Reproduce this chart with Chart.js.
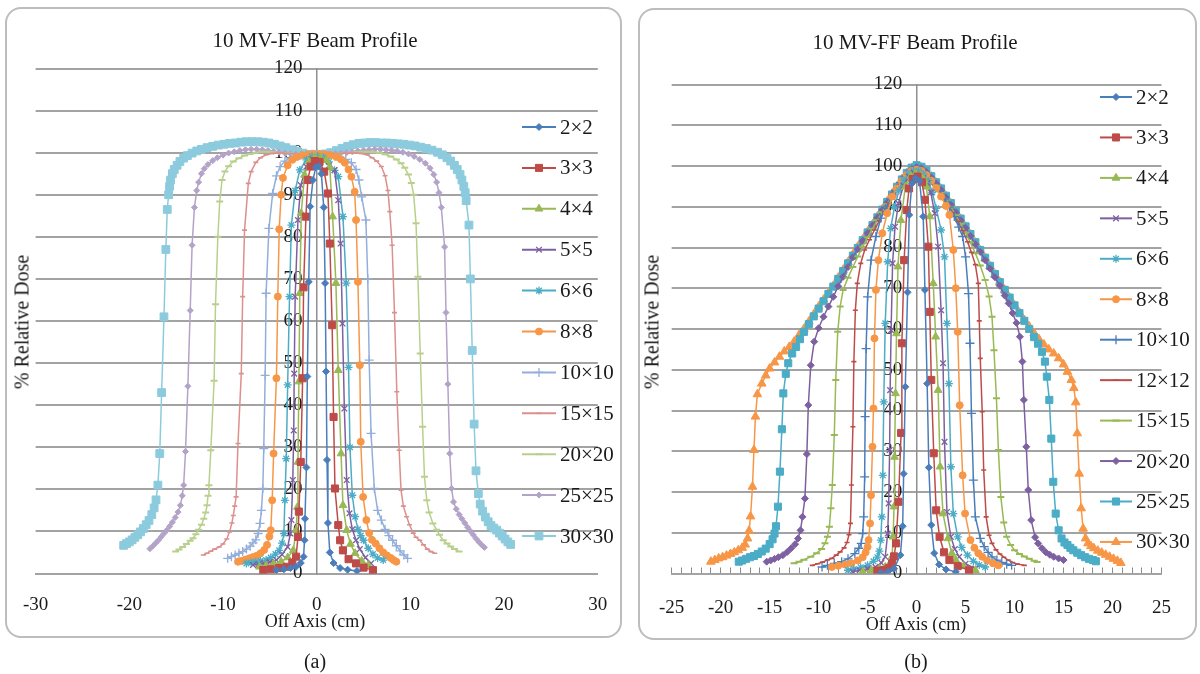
<!DOCTYPE html>
<html>
<head>
<meta charset="utf-8">
<script src="https://cdn.jsdelivr.net/npm/chart.js@4.4.1/dist/chart.umd.min.js"></script>
<style>
  body { margin: 0; background: #fff; width: 1200px; height: 674px; position: relative; overflow: hidden;
         font-family: 'Liberation Serif', 'Times New Roman', serif; color: #1a1a1a; }
  .frame { position: absolute; box-sizing: border-box; border: 2px solid #bdbdbd; border-radius: 16px; }
  canvas { position: absolute; top: 0; }
  .txt { position: absolute; transform: translate(-50%, -50%); white-space: nowrap; }
  .ytitle { transform: translate(-50%, -50%) rotate(-90deg); }
</style>
</head>
<body>
<div class="frame" style="left:5px;top:7px;width:617px;height:631px"></div>
<div class="frame" style="left:638px;top:8px;width:559px;height:632px"></div>
<canvas id="chartA" width="630" height="674" style="left:0"></canvas>
<canvas id="chartB" width="570" height="674" style="left:630px"></canvas>

<div class="txt" style="left:315px;top:40px;font-size:21px">10 MV-FF Beam Profile</div>
<div class="txt" style="left:915px;top:42px;font-size:21px">10 MV-FF Beam Profile</div>
<div class="txt ytitle" style="left:22px;top:322px;font-size:20px">% Relative Dose</div>
<div class="txt ytitle" style="left:652px;top:322px;font-size:20px">% Relative Dose</div>
<div class="txt" style="left:315px;top:621px;font-size:18px">Off Axis (cm)</div>
<div class="txt" style="left:916px;top:624px;font-size:18px">Off Axis (cm)</div>
<div class="txt" style="left:315px;top:661px;font-size:20px">(a)</div>
<div class="txt" style="left:916px;top:661px;font-size:20px">(b)</div>

<script>
// legend labels (field sizes)
const fieldsA = ['2×2', '3×3', '4×4', '5×5', '6×6', '8×8', '10×10', '15×15', '20×20', '25×25', '30×30'];
const fieldsB = ['2×2', '3×3', '4×4', '5×5', '6×6', '8×8', '10×10', '12×12', '15×15', '20×20', '25×25', '30×30'];

// axis ticks
const xLabelsA = [-30, -20, -10, 0, 10, 20, 30];
const xLabelsB = [-25, -20, -15, -10, -5, 0, 5, 10, 15, 20, 25];
const yLabels = [0, 10, 20, 30, 40, 50, 60, 70, 80, 90, 100, 110, 120];

// (a) profiles: [off axis cm, % dose]
const a2 = [[-4.3,0.8],[-3.5,1.0],[-2.8,1.3],[-2.2,1.6],[-1.7,2.5],[-1.4,4.0],[-1.3,7.9],[-1.25,13.0],[-1.1,25.2],[-1.0,46.8],[-0.85,69.3],[-0.7,87.2],[-0.4,93.5],[-0.1,96.5],[0.2,96.8],[0.5,95.0],[0.75,87.0],[0.9,69.0],[1.0,48.0],[1.1,27.0],[1.2,12.0],[1.4,5.0],[1.8,2.5],[2.5,1.3],[3.3,0.9],[4.3,0.6]];
const a3 = [[-5.7,0.8],[-4.9,1.0],[-4.0,1.3],[-3.2,1.6],[-2.6,2.6],[-2.2,4.0],[-2.0,8.7],[-1.9,14.7],[-1.7,26.5],[-1.5,46.4],[-1.4,68.0],[-1.15,84.8],[-0.95,93.5],[-0.65,96.7],[-0.2,98.0],[0.3,97.8],[0.8,95.5],[1.2,90.3],[1.4,78.4],[1.65,59.0],[1.8,37.2],[1.95,20.2],[2.3,11.5],[2.5,7.9],[2.8,5.5],[3.4,3.4],[4.2,2.4],[5.0,1.4],[6.0,0.8]];
const a4 = [[-6.1,1.6],[-5.4,1.9],[-4.6,2.3],[-3.8,2.8],[-3.1,3.8],[-2.5,5.5],[-2.2,10.3],[-2.05,15.8],[-2.0,26.5],[-1.9,45.6],[-1.8,66.6],[-1.65,85.6],[-1.3,94.7],[-0.8,97.9],[-0.2,98.9],[0.4,98.8],[1.0,98.2],[1.4,96.5],[1.7,84.8],[2.05,69.0],[2.3,48.3],[2.6,28.5],[2.8,16.2],[3.2,10.3],[3.6,7.0],[4.1,4.8],[4.8,3.0],[5.5,2.0]];
const a5 = [[-6.8,2.0],[-6.2,2.2],[-5.6,2.4],[-5.0,2.7],[-4.3,3.2],[-3.7,4.5],[-3.1,6.3],[-2.8,9.5],[-2.7,12.7],[-2.55,22.2],[-2.45,34.0],[-2.4,47.5],[-2.3,65.8],[-2.0,84.0],[-1.7,92.3],[-1.1,96.7],[-0.5,98.4],[0.1,98.8],[0.7,98.2],[1.3,97.0],[1.9,95.9],[2.3,88.7],[2.55,78.4],[2.75,59.4],[2.95,39.2],[3.2,22.2],[3.5,14.3],[3.8,10.5],[4.2,7.9],[4.6,5.8],[5.2,3.8],[5.8,2.4]];
const a6 = [[-7.5,2.4],[-7.0,2.6],[-6.5,2.8],[-6.0,3.0],[-5.4,3.2],[-4.9,3.8],[-4.4,4.6],[-4.0,5.5],[-3.7,7.2],[-3.5,9.5],[-3.4,17.4],[-3.25,27.3],[-3.1,44.8],[-2.9,65.8],[-2.7,82.8],[-2.3,91.0],[-1.8,95.9],[-1.1,98.3],[-0.5,99.1],[0.1,99.2],[0.7,98.9],[1.3,97.8],[1.9,95.8],[2.3,94.3],[2.8,84.8],[3.15,69.0],[3.4,49.0],[3.55,30.0],[3.8,18.6],[4.1,13.5],[4.4,10.5],[4.7,9.0],[5.0,7.9],[5.5,6.0],[6.0,4.6],[6.5,3.7],[7.1,3.2]];
const a8 = [[-8.4,2.8],[-8.0,3.0],[-7.6,3.3],[-7.2,3.6],[-6.8,3.9],[-6.4,4.2],[-6.0,4.8],[-5.6,5.6],[-5.3,6.8],[-5.05,8.8],[-4.9,10.3],[-4.75,17.4],[-4.6,28.5],[-4.3,46.4],[-4.15,65.8],[-4.0,81.8],[-3.8,90.0],[-3.6,94.0],[-3.1,97.0],[-2.6,98.3],[-2.1,99.0],[-1.5,99.4],[-0.9,99.6],[-0.3,99.7],[0.3,99.7],[0.9,99.6],[1.5,99.4],[2.1,99.0],[2.6,98.4],[3.0,97.6],[3.4,96.0],[3.7,94.3],[4.05,90.7],[4.2,84.0],[4.4,69.3],[4.6,49.5],[4.7,31.3],[4.95,18.2],[5.3,12.7],[5.6,9.6],[5.9,8.0],[6.3,7.1],[6.7,6.0],[7.1,5.0],[7.5,4.3],[7.9,3.7],[8.2,3.2],[8.5,2.8]];
const a10 = [[-9.5,3.6],[-9.1,4.0],[-8.7,4.4],[-8.3,4.8],[-7.9,5.2],[-7.5,5.8],[-7.1,6.5],[-6.8,7.3],[-6.5,8.0],[-6.25,9.5],[-6.05,11.9],[-5.9,15.0],[-5.75,20.2],[-5.65,29.7],[-5.5,47.1],[-5.4,66.6],[-5.1,82.0],[-4.7,90.3],[-4.3,94.5],[-3.9,96.7],[-3.4,98.0],[-2.9,98.7],[-2.3,99.2],[-1.7,99.4],[-1.1,99.5],[-0.5,99.6],[0.1,99.6],[0.7,99.5],[1.3,99.4],[1.9,99.2],[2.5,98.9],[3.1,98.4],[3.7,97.6],[4.2,96.0],[4.5,93.5],[4.8,89.5],[5.25,84.0],[5.45,70.0],[5.6,50.7],[5.8,33.3],[6.15,20.2],[6.5,15.0],[6.9,12.7],[7.3,10.5],[7.7,9.0],[8.1,7.9],[8.5,6.6],[8.9,5.4],[9.3,4.4],[9.7,3.6]];
const a15 = [[-12.1,4.4],[-11.7,4.8],[-11.3,5.3],[-10.9,5.8],[-10.4,6.3],[-10.0,7.0],[-9.6,8.2],[-9.3,9.9],[-9.05,12.0],[-8.9,13.8],[-8.75,16.0],[-8.6,18.2],[-8.4,30.9],[-8.05,47.5],[-7.9,65.8],[-7.7,81.6],[-7.3,92.7],[-7.0,95.5],[-6.5,97.7],[-6.0,98.8],[-5.4,99.5],[-4.8,99.8],[-4.2,99.9],[-3.6,99.9],[-3.0,99.8],[-2.4,99.7],[-1.8,99.6],[-1.2,99.6],[-0.6,99.6],[0.0,99.6],[0.6,99.6],[1.2,99.6],[1.8,99.7],[2.4,99.8],[3.0,99.9],[3.6,99.9],[4.2,99.9],[4.8,99.8],[5.4,99.5],[5.9,98.8],[6.4,98.0],[6.9,96.7],[7.3,94.5],[7.6,91.0],[7.8,86.0],[8.05,78.0],[8.3,62.0],[8.55,43.2],[8.8,29.3],[9.0,19.8],[9.25,16.0],[9.6,13.5],[9.9,11.6],[10.3,9.6],[10.6,8.6],[11.0,7.9],[11.4,6.8],[11.8,5.8],[12.2,5.2],[12.6,4.8]];
const a20 = [[-15.05,5.2],[-14.7,5.7],[-14.3,6.3],[-13.9,7.0],[-13.5,7.8],[-13.2,8.4],[-12.9,9.3],[-12.6,10.4],[-12.3,11.6],[-12.05,13.0],[-11.85,14.5],[-11.7,16.2],[-11.6,18.5],[-11.5,21.0],[-11.3,29.3],[-10.95,45.8],[-10.8,64.0],[-10.55,80.0],[-10.35,88.4],[-10.1,93.5],[-9.8,95.5],[-9.4,96.8],[-8.9,97.9],[-8.3,98.7],[-7.7,99.3],[-7.1,99.7],[-6.5,100.0],[-5.9,100.2],[-5.3,100.2],[-4.7,100.1],[-4.1,100.0],[-3.5,99.9],[-2.9,99.8],[-2.3,99.7],[-1.7,99.7],[-1.1,99.6],[-0.5,99.6],[0.1,99.6],[0.7,99.6],[1.3,99.7],[1.9,99.7],[2.5,99.8],[3.1,99.9],[3.7,100.0],[4.3,100.1],[4.9,100.2],[5.5,100.2],[6.1,100.1],[6.7,100.0],[7.3,99.6],[7.9,99.1],[8.5,98.4],[9.0,97.5],[9.4,96.4],[9.8,94.8],[10.1,92.8],[10.35,90.0],[10.6,83.2],[10.8,70.5],[11.05,52.3],[11.3,34.9],[11.5,23.0],[11.75,17.4],[12.0,14.5],[12.4,11.9],[12.8,10.4],[13.1,9.2],[13.5,7.9],[13.9,7.1],[14.3,6.4],[14.7,5.8],[15.2,5.2]];
const a25 = [[-17.8,5.9],[-17.5,6.5],[-17.2,7.2],[-16.9,7.9],[-16.6,8.7],[-16.3,9.5],[-16.0,10.3],[-15.7,11.2],[-15.4,12.2],[-15.1,13.3],[-14.8,14.6],[-14.55,16.2],[-14.35,18.5],[-14.2,21.0],[-14.0,29.0],[-13.75,44.5],[-13.5,62.5],[-13.3,78.0],[-13.05,87.0],[-12.8,91.0],[-12.6,93.0],[-12.3,95.0],[-12.0,96.2],[-11.6,97.2],[-11.1,98.1],[-10.6,98.8],[-10.0,99.4],[-9.4,99.9],[-8.8,100.2],[-8.2,100.5],[-7.6,100.7],[-7.0,100.8],[-6.4,100.8],[-5.8,100.7],[-5.2,100.5],[-4.6,100.3],[-4.0,100.1],[-3.4,99.9],[-2.8,99.8],[-2.2,99.7],[-1.6,99.6],[-1.0,99.6],[-0.4,99.6],[0.2,99.6],[0.8,99.6],[1.4,99.7],[2.0,99.8],[2.6,99.9],[3.2,100.0],[3.8,100.2],[4.4,100.4],[5.0,100.6],[5.6,100.7],[6.2,100.8],[6.8,100.8],[7.4,100.7],[8.0,100.6],[8.6,100.4],[9.2,100.1],[9.8,99.7],[10.4,99.1],[11.0,98.4],[11.6,97.5],[12.1,96.3],[12.5,94.8],[12.8,93.0],[13.05,90.5],[13.3,87.0],[13.65,77.6],[13.8,62.0],[14.0,45.0],[14.2,28.5],[14.4,20.2],[14.6,17.0],[14.9,15.3],[15.2,14.0],[15.5,13.0],[15.8,12.0],[16.1,11.0],[16.4,10.1],[16.7,9.2],[17.0,8.3],[17.3,7.5],[17.6,6.8],[17.9,6.2]];
const a30 = [[-20.6,6.7],[-20.3,7.1],[-20.0,7.5],[-19.7,8.0],[-19.4,8.6],[-19.1,9.2],[-18.8,9.9],[-18.5,10.7],[-18.2,11.6],[-17.9,12.6],[-17.6,14.0],[-17.35,15.6],[-17.15,17.5],[-16.95,21.0],[-16.75,28.5],[-16.55,43.0],[-16.3,61.0],[-16.1,77.0],[-15.95,86.5],[-15.8,90.0],[-15.7,92.0],[-15.6,93.5],[-15.4,95.0],[-15.2,96.0],[-14.9,97.0],[-14.6,97.9],[-14.2,98.7],[-13.8,99.3],[-13.3,99.9],[-12.8,100.4],[-12.3,100.8],[-11.7,101.2],[-11.1,101.5],[-10.5,101.8],[-9.9,102.0],[-9.3,102.2],[-8.7,102.3],[-8.1,102.5],[-7.5,102.6],[-6.9,102.6],[-6.3,102.6],[-5.7,102.5],[-5.1,102.3],[-4.5,102.0],[-3.9,101.6],[-3.3,101.2],[-2.7,100.7],[-2.1,100.3],[-1.5,99.9],[-0.9,99.6],[-0.3,99.5],[0.3,99.5],[0.9,99.7],[1.5,100.0],[2.1,100.5],[2.7,101.0],[3.3,101.5],[3.9,101.9],[4.5,102.2],[5.1,102.3],[5.7,102.4],[6.3,102.4],[6.9,102.3],[7.5,102.3],[8.1,102.2],[8.7,102.1],[9.3,102.0],[9.9,101.8],[10.5,101.6],[11.1,101.3],[11.7,101.0],[12.3,100.6],[12.9,100.1],[13.4,99.5],[13.9,98.8],[14.3,98.0],[14.7,97.0],[15.0,96.0],[15.3,94.8],[15.5,93.5],[15.7,92.0],[15.85,90.5],[15.95,88.6],[16.25,82.8],[16.4,70.0],[16.6,53.0],[16.8,35.5],[17.0,24.4],[17.25,19.0],[17.45,16.5],[17.7,14.8],[18.0,13.4],[18.3,12.3],[18.6,11.4],[18.9,10.8],[19.2,10.3],[19.5,9.6],[19.8,8.9],[20.1,8.2],[20.4,7.5],[20.7,6.9]];

// (b) profiles: [off axis cm, % dose]
const b2 = [[-3.65,0.2],[-2.9,0.5],[-2.3,1.2],[-1.65,4.5],[-1.42,11.6],[-1.32,24.5],[-1.15,45.8],[-0.92,69.0],[-0.75,88.0],[-0.48,95.7],[-0.1,97.0],[0.3,96.3],[0.68,87.6],[0.85,69.6],[1.08,46.6],[1.25,26.0],[1.5,11.9],[1.8,5.0],[2.3,2.2],[3.0,1.0],[4.0,0.4]];
const b3 = [[-4.0,0.7],[-3.3,0.9],[-2.8,1.4],[-2.5,2.5],[-2.3,4.2],[-2.1,7.4],[-1.85,17.6],[-1.58,34.5],[-1.5,56.5],[-1.27,76.9],[-1.0,89.2],[-0.77,94.5],[-0.4,96.8],[0.1,97.4],[0.55,96.0],[0.85,91.7],[1.2,80.2],[1.35,64.2],[1.5,47.5],[1.75,29.5],[2.0,15.5],[2.35,9.0],[2.8,5.2],[3.35,3.3],[4.2,1.8],[5.35,0.8]];
const b4 = [[-5.5,0.4],[-4.6,0.8],[-3.8,1.2],[-3.2,1.6],[-2.6,3.0],[-2.5,4.1],[-2.4,9.0],[-2.3,16.4],[-2.25,28.6],[-2.15,44.2],[-2.05,58.9],[-1.9,75.3],[-1.6,86.7],[-1.15,94.9],[-0.6,97.5],[-0.1,98.2],[0.4,97.8],[0.8,96.5],[1.0,94.9],[1.35,87.6],[1.7,71.2],[1.95,58.1],[2.2,45.0],[2.4,26.2],[2.7,14.7],[3.2,8.6],[3.6,5.0],[4.0,3.3],[4.8,1.8],[6.0,0.8]];
const b5 = [[-6.5,0.4],[-5.8,0.8],[-5.0,1.2],[-4.2,1.6],[-3.6,2.6],[-3.2,4.1],[-2.95,9.8],[-2.85,17.2],[-2.75,30.3],[-2.7,45.0],[-2.6,59.7],[-2.45,76.1],[-2.2,85.1],[-1.85,90.8],[-1.35,95.2],[-0.8,97.4],[-0.3,98.4],[0.2,98.3],[0.7,97.0],[1.1,95.8],[1.45,93.5],[1.85,88.4],[2.2,80.2],[2.5,64.6],[2.7,51.6],[2.85,32.3],[3.1,15.1],[3.5,9.0],[3.9,6.0],[4.35,4.1],[5.0,2.4],[6.0,1.2]];
const b6 = [[-7.0,0.8],[-6.4,1.1],[-5.7,1.5],[-5.0,2.0],[-4.4,3.0],[-4.0,4.0],[-3.8,5.5],[-3.65,8.2],[-3.55,13.9],[-3.45,24.1],[-3.35,42.1],[-3.2,61.4],[-2.95,76.5],[-2.65,84.7],[-2.25,90.0],[-1.8,94.0],[-1.3,96.5],[-0.8,98.0],[-0.3,98.8],[0.2,98.8],[0.7,98.0],[1.2,96.4],[1.6,93.5],[2.0,89.6],[2.5,84.3],[2.85,77.7],[3.1,61.4],[3.3,46.6],[3.5,26.2],[3.75,14.7],[4.2,9.0],[4.6,6.4],[5.2,4.5],[5.8,3.0],[6.4,2.1],[7.0,1.6]];
const b8 = [[-8.65,1.6],[-8.0,1.9],[-7.3,2.2],[-6.65,2.5],[-6.0,3.2],[-5.5,4.0],[-5.2,5.2],[-5.0,6.5],[-4.9,8.2],[-4.75,12.3],[-4.65,19.2],[-4.5,31.1],[-4.4,40.5],[-4.3,57.7],[-4.15,69.6],[-3.9,76.9],[-3.5,83.5],[-3.0,88.4],[-2.5,92.5],[-2.0,94.5],[-1.5,96.3],[-1.0,97.8],[-0.5,98.8],[0.0,99.1],[0.5,98.8],[1.0,97.8],[1.5,96.4],[2.0,94.6],[2.5,92.5],[3.0,90.2],[3.35,88.0],[3.75,79.4],[4.0,70.0],[4.2,59.3],[4.4,41.3],[4.7,24.1],[4.95,14.7],[5.5,8.2],[5.9,6.3],[6.3,5.0],[6.7,4.1],[7.2,3.2],[7.8,2.5],[8.35,2.0]];
const b10 = [[-9.65,1.6],[-9.1,2.0],[-8.4,2.5],[-7.65,2.9],[-7.0,3.6],[-6.3,4.9],[-5.9,6.2],[-5.65,7.4],[-5.5,9.8],[-5.4,13.9],[-5.3,23.7],[-5.25,38.5],[-5.15,55.2],[-5.0,67.9],[-4.65,76.9],[-4.15,82.7],[-3.65,87.2],[-3.15,89.6],[-2.65,91.9],[-2.15,94.0],[-1.65,95.9],[-1.15,97.5],[-0.65,98.6],[-0.15,99.2],[0.35,99.0],[0.85,98.2],[1.35,97.0],[1.85,95.5],[2.35,93.8],[2.85,91.9],[3.35,89.9],[3.85,87.6],[4.3,85.0],[4.7,82.7],[5.0,77.7],[5.3,68.7],[5.45,56.5],[5.6,39.3],[5.8,22.9],[6.0,13.9],[6.5,8.6],[6.9,6.6],[7.3,5.2],[7.7,4.1],[8.2,3.3],[8.7,2.7],[9.2,2.3],[9.7,2.0]];
const b12 = [[-10.65,2.0],[-10.1,2.4],[-9.6,2.8],[-9.1,3.3],[-8.65,3.7],[-8.2,4.5],[-7.8,5.3],[-7.4,6.3],[-7.1,7.6],[-6.9,9.5],[-6.75,12.3],[-6.65,21.7],[-6.5,36.0],[-6.4,52.0],[-6.25,64.6],[-6.05,71.2],[-5.7,76.1],[-5.3,79.4],[-4.8,81.9],[-4.3,84.3],[-3.8,86.6],[-3.3,88.8],[-2.8,90.9],[-2.3,93.0],[-1.8,95.0],[-1.3,96.8],[-0.8,98.1],[-0.3,98.9],[0.2,99.0],[0.7,98.4],[1.2,97.3],[1.7,95.8],[2.2,94.2],[2.7,92.4],[3.2,90.5],[3.7,88.5],[4.2,86.4],[4.7,84.1],[5.2,81.4],[5.6,78.8],[6.0,75.8],[6.3,71.2],[6.4,62.0],[6.5,52.8],[6.7,39.7],[6.85,25.4],[7.1,13.9],[7.4,9.4],[7.7,7.4],[8.1,5.8],[8.5,4.8],[8.9,4.0],[9.35,3.3],[9.8,2.7],[10.3,2.3],[11.0,2.0]];
const b15 = [[-12.5,2.5],[-12.0,2.9],[-11.5,3.4],[-10.8,4.1],[-10.2,5.0],[-9.7,6.0],[-9.35,7.4],[-9.1,9.0],[-8.9,11.5],[-8.75,16.0],[-8.6,21.7],[-8.4,34.0],[-8.25,47.5],[-8.05,59.3],[-7.8,65.5],[-7.5,69.6],[-7.0,72.6],[-6.5,75.2],[-6.0,77.8],[-5.5,80.2],[-5.0,82.5],[-4.5,84.6],[-4.0,86.7],[-3.5,88.7],[-3.0,90.7],[-2.5,92.6],[-2.0,94.4],[-1.5,96.2],[-1.0,97.7],[-0.5,98.8],[0.0,99.3],[0.5,99.0],[1.0,98.1],[1.5,96.8],[2.0,95.3],[2.5,93.6],[3.0,91.8],[3.5,89.9],[4.0,87.9],[4.5,85.8],[5.0,83.6],[5.5,81.2],[6.0,78.6],[6.5,75.6],[7.0,72.0],[7.4,68.0],[7.7,63.0],[7.9,54.8],[8.15,43.0],[8.35,30.3],[8.6,18.8],[8.9,12.5],[9.2,9.0],[9.6,7.0],[10.0,5.7],[10.5,4.8],[11.0,4.2],[11.5,3.6],[12.0,3.1],[12.3,2.8]];
const b20 = [[-15.3,2.9],[-14.9,3.2],[-14.5,3.6],[-14.1,4.0],[-13.65,4.5],[-13.2,5.3],[-12.8,6.2],[-12.4,7.2],[-12.1,8.6],[-11.85,10.6],[-11.65,13.9],[-11.4,18.4],[-11.2,29.3],[-11.05,41.3],[-10.8,51.1],[-10.45,56.9],[-10.0,60.2],[-9.5,63.0],[-9.0,65.5],[-8.5,67.9],[-8.0,70.5],[-7.5,72.8],[-7.0,75.2],[-6.5,77.6],[-6.0,79.6],[-5.5,81.6],[-5.0,83.5],[-4.5,85.4],[-4.0,87.3],[-3.5,89.2],[-3.0,91.0],[-2.5,92.9],[-2.0,94.7],[-1.5,96.5],[-1.0,98.0],[-0.5,99.2],[0.0,99.7],[0.5,99.4],[1.0,98.5],[1.5,97.2],[2.0,95.7],[2.5,94.1],[3.0,92.3],[3.5,90.5],[4.0,88.6],[4.5,86.7],[5.0,84.8],[5.5,82.8],[6.0,80.8],[6.5,78.9],[7.0,76.9],[7.5,74.8],[8.0,72.7],[8.5,70.6],[9.0,68.2],[9.4,66.3],[9.8,63.9],[10.2,61.5],[10.55,58.1],[10.8,52.0],[10.95,42.6],[11.2,31.1],[11.4,20.5],[11.7,13.1],[12.1,8.9],[12.4,7.4],[12.8,6.2],[13.2,5.2],[13.6,4.6],[14.0,4.1],[14.5,3.7],[15.0,3.3]];
const b25 = [[-18.15,2.9],[-17.8,3.2],[-17.4,3.6],[-17.0,4.0],[-16.6,4.3],[-16.2,4.8],[-15.8,5.4],[-15.4,6.1],[-15.0,7.2],[-14.7,8.4],[-14.5,9.8],[-14.35,11.6],[-14.15,16.4],[-13.95,25.0],[-13.75,35.4],[-13.6,44.2],[-13.35,49.0],[-13.1,51.6],[-12.7,54.0],[-12.3,55.6],[-11.9,57.5],[-11.5,59.3],[-11.0,61.2],[-10.5,63.1],[-10.0,65.0],[-9.5,66.8],[-9.0,68.6],[-8.5,70.4],[-8.0,72.3],[-7.5,74.2],[-7.0,76.1],[-6.5,78.0],[-6.0,79.9],[-5.5,81.8],[-5.0,83.7],[-4.5,85.5],[-4.0,87.4],[-3.5,89.3],[-3.0,91.2],[-2.5,93.0],[-2.0,94.9],[-1.5,96.7],[-1.0,98.3],[-0.5,99.6],[0.0,100.2],[0.5,99.8],[1.0,98.9],[1.5,97.5],[2.0,96.0],[2.5,94.5],[3.0,92.7],[3.5,90.9],[4.0,89.0],[4.5,87.1],[5.0,85.2],[5.5,83.3],[6.0,81.3],[6.5,79.4],[7.0,77.5],[7.5,75.5],[8.0,73.5],[8.5,71.5],[9.0,69.6],[9.5,67.7],[10.0,65.8],[10.5,63.9],[11.0,62.0],[11.5,60.0],[12.0,58.0],[12.4,56.4],[12.8,54.4],[13.1,52.0],[13.3,48.3],[13.55,42.6],[13.75,33.1],[13.95,22.5],[14.2,14.7],[14.5,10.6],[14.8,8.6],[15.1,7.6],[15.4,7.0],[15.7,6.3],[16.0,5.7],[16.4,5.1],[16.8,4.5],[17.2,4.0],[17.6,3.6],[18.0,3.3],[18.3,3.0]];
const b30 = [[-21.0,2.9],[-20.6,3.3],[-20.2,3.7],[-19.8,4.0],[-19.4,4.4],[-19.0,4.8],[-18.6,5.2],[-18.2,5.7],[-17.8,6.3],[-17.5,7.1],[-17.25,8.6],[-17.1,10.5],[-16.95,14.0],[-16.75,21.3],[-16.6,30.3],[-16.45,38.5],[-16.25,44.0],[-15.8,46.6],[-15.4,48.6],[-15.0,50.3],[-14.5,51.8],[-14.0,53.2],[-13.5,54.5],[-13.0,55.6],[-12.5,56.9],[-12.0,58.5],[-11.5,60.0],[-11.0,61.8],[-10.5,63.6],[-10.0,65.5],[-9.5,67.2],[-9.0,68.8],[-8.5,70.6],[-8.0,72.6],[-7.5,74.5],[-7.0,76.4],[-6.5,78.3],[-6.0,80.2],[-5.5,82.0],[-5.0,83.9],[-4.5,85.7],[-4.0,87.6],[-3.5,89.4],[-3.0,91.3],[-2.5,93.2],[-2.0,95.0],[-1.5,96.8],[-1.0,98.3],[-0.5,99.5],[0.0,100.0],[0.5,99.6],[1.0,98.7],[1.5,97.4],[2.0,95.9],[2.5,94.4],[3.0,92.6],[3.5,90.8],[4.0,88.9],[4.5,87.0],[5.0,85.1],[5.5,83.2],[6.0,81.2],[6.5,79.3],[7.0,77.4],[7.5,75.4],[8.0,73.4],[8.5,71.5],[9.0,69.6],[9.5,67.7],[10.0,65.8],[10.5,64.0],[11.0,62.2],[11.5,60.6],[12.0,59.0],[12.5,57.5],[13.0,56.2],[13.5,55.0],[14.0,54.0],[14.5,52.8],[15.0,51.3],[15.4,49.5],[15.8,47.5],[16.05,45.5],[16.25,42.0],[16.4,34.4],[16.6,24.5],[16.8,16.0],[17.0,11.0],[17.25,8.6],[17.5,7.4],[17.8,6.7],[18.1,6.2],[18.5,5.6],[18.9,5.1],[19.3,4.6],[19.7,4.1],[20.1,3.6],[20.5,3.1],[20.85,2.6]];

const seriesA = [a2, a3, a4, a5, a6, a8, a10, a15, a20, a25, a30];
const seriesB = [b2, b3, b4, b5, b6, b8, b10, b12, b15, b20, b25, b30];

// line colours and marker styles (Excel 2010 palette)
const stylesA = [
    { color: '#4a7ebb', shape: 'rectRot', r: 3.5, bw: 1 },
    { color: '#be4b48', shape: 'rect', r: 5, bw: 1 },
    { color: '#98b954', shape: 'triangle', r: 4.5, bw: 1 },
    { color: '#7d60a0', shape: 'crossRot', r: 4, bw: 1.3 },
    { color: '#4bacc6', shape: 'star', r: 4, bw: 1.3 },
    { color: '#f79646', shape: 'circle', r: 3.5, bw: 1 },
    { color: '#93aedb', shape: 'cross', r: 4.5, bw: 1.3 },
    { color: '#db908d', shape: 'line', r: 2.5, bw: 1.6 },
    { color: '#b8d08c', shape: 'line', r: 3.5, bw: 2 },
    { color: '#b3a3c8', shape: 'rectRot', r: 3, bw: 1 },
    { color: '#8ccbdd', shape: 'rect', r: 5.5, bw: 1 }
];
const stylesB = [
    { color: '#4a7ebb', shape: 'rectRot', r: 3.5, bw: 1 },
    { color: '#be4b48', shape: 'rect', r: 5, bw: 1 },
    { color: '#98b954', shape: 'triangle', r: 4.5, bw: 1 },
    { color: '#7d60a0', shape: 'crossRot', r: 4, bw: 1.3 },
    { color: '#4bacc6', shape: 'star', r: 4, bw: 1.3 },
    { color: '#f79646', shape: 'circle', r: 3.5, bw: 1 },
    { color: '#4a7ebb', shape: 'cross', r: 4.5, bw: 1.3 },
    { color: '#be4b48', shape: 'line', r: 2.5, bw: 1.6 },
    { color: '#98b954', shape: 'line', r: 3.5, bw: 2 },
    { color: '#7d60a0', shape: 'rectRot', r: 3.5, bw: 1 },
    { color: '#4bacc6', shape: 'rect', r: 5, bw: 1 },
    { color: '#f79646', shape: 'triangle', r: 5, bw: 1 }
];

Chart.defaults.font.family = "'Liberation Serif', 'Times New Roman', serif";
Chart.defaults.color = '#1a1a1a';

function makeDatasets(series, labels, styles) {
    return series.map((pts, i) => ({
        label: labels[i],
        data: pts.map(p => ({ x: p[0], y: p[1] })),
        showLine: true,
        tension: 0,
        borderColor: styles[i].color,
        backgroundColor: styles[i].color,
        borderWidth: 1.5,
        pointStyle: styles[i].shape,
        pointRadius: styles[i].r,
        pointBorderWidth: styles[i].bw,
        pointBackgroundColor: styles[i].color,
        pointBorderColor: styles[i].color,
        pointHoverRadius: styles[i].r
    }));
}

// legend drawn over the plot, like the Excel original
function sideLegend(labels, styles, pos) {
    return {
        id: 'sideLegend',
        afterDatasetsDraw(chart) {
            const ctx = chart.ctx;
            ctx.save();
            ctx.font = "21px 'Liberation Serif', serif";
            ctx.textBaseline = 'middle';
            ctx.textAlign = 'left';
            labels.forEach((lab, i) => {
                const st = styles[i];
                const y = pos.top + i * pos.step;
                ctx.strokeStyle = st.color;
                ctx.fillStyle = st.color;
                ctx.lineWidth = 2;
                ctx.beginPath();
                ctx.moveTo(pos.x0, y);
                ctx.lineTo(pos.x1, y);
                ctx.stroke();
                ctx.lineWidth = st.bw;
                Chart.helpers.drawPoint(ctx, { pointStyle: st.shape, radius: st.r, borderWidth: st.bw, rotation: 0 }, (pos.x0 + pos.x1) / 2, y);
                ctx.fillStyle = '#1a1a1a';
                ctx.fillText(lab, pos.x1 + 4, y + 1);
            });
            ctx.restore();
        }
    };
}

function makeOptions(cfg) {
    return {
        responsive: false,
        animation: false,
        devicePixelRatio: 1,
        events: [],
        layout: { padding: cfg.padding },
        plugins: { legend: { display: false }, tooltip: { enabled: false } },
        scales: {
            x: {
                type: 'linear',
                position: 'bottom',
                min: cfg.xmin,
                max: cfg.xmax,
                afterFit: s => { s.height = 60; },
                grid: { display: true, drawOnChartArea: false, drawTicks: cfg.minorTicks, tickLength: -6, tickColor: '#8a8a8a', tickWidth: 1 },
                border: { display: true, color: '#a3a3a3', width: 2 },
                ticks: {
                    stepSize: cfg.xstep,
                    autoSkip: false,
                    maxTicksLimit: 200,
                    maxRotation: 0,
                    padding: cfg.xpad,
                    font: { size: 19 },
                    color: '#1a1a1a',
                    callback: v => cfg.xLabels.includes(Math.round(v)) && Math.abs(v - Math.round(v)) < 1e-6 ? String(Math.round(v)) : ''
                }
            },
            y: {
                type: 'linear',
                position: { x: 0 },
                min: 0,
                max: 120,
                grid: { color: '#a3a3a3', lineWidth: 2, drawTicks: false },
                border: { display: true, color: '#8f8f8f', width: 1.5 },
                ticks: {
                    stepSize: 10,
                    font: { size: 19 },
                    color: '#1a1a1a',
                    // labels sit just left of the axis line; trailing spaces give the gap
                    callback: v => yLabels.includes(v) ? String(v) + '   ' : ''
                }
            }
        }
    };
}

new Chart(document.getElementById('chartA'), {
    type: 'scatter',
    data: { datasets: makeDatasets(seriesA, fieldsA, stylesA) },
    options: makeOptions({
        padding: { left: 35.6, right: 32.2, top: 68.5, bottom: 40.5 },
        xmin: -30, xmax: 30, xstep: 10, xLabels: xLabelsA, minorTicks: false, xpad: 20
    }),
    plugins: [sideLegend(fieldsA, stylesA, { x0: 522, x1: 556, top: 127, step: 40.9 })]
});

new Chart(document.getElementById('chartB'), {
    type: 'scatter',
    data: { datasets: makeDatasets(seriesB, fieldsB, stylesB) },
    options: makeOptions({
        padding: { left: 36.5, right: 33.5, top: 84.5, bottom: 40.5 },
        xmin: -25, xmax: 25, xstep: 1, xLabels: xLabelsB, minorTicks: true, xpad: 29
    }),
    plugins: [sideLegend(fieldsB, stylesB, { x0: 470, x1: 502, top: 97, step: 40.45 })]
});
</script>
</body>
</html>
